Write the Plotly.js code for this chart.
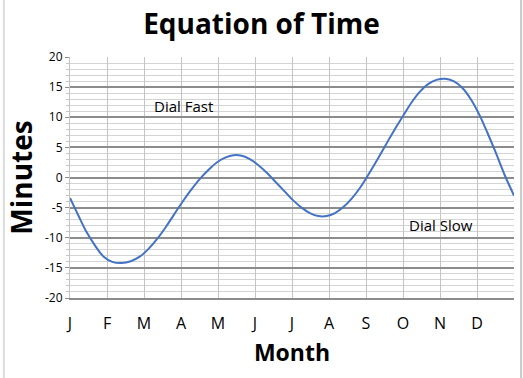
<!DOCTYPE html>
<html>
<head>
<meta charset="utf-8">
<script src="https://cdn.plot.ly/plotly-3.0.1.min.js"></script>
<style>
html,body{margin:0;padding:0;background:#fff;}
#chart{width:523px;height:378px;}
</style>
</head>
<body>
<div id="chart"></div>
<script>
// Month position (0 = 1 Jan, 12 = end of 31 Dec) and equation of time in minutes (about weekly)
var monthPos = [0, 0.226, 0.452, 0.677, 0.903,
  1.143, 1.393, 1.643, 1.893,
  2.129, 2.355, 2.581, 2.806,
  3.033, 3.267, 3.5, 3.733, 3.967,
  4.194, 4.419, 4.645, 4.871,
  5.1, 5.333, 5.567, 5.8,
  6.032, 6.258, 6.484, 6.71, 6.935,
  7.161, 7.387, 7.613, 7.839,
  8.067, 8.3, 8.533, 8.767,
  9.0, 9.226, 9.452, 9.677, 9.903,
  10.133, 10.367, 10.6, 10.833,
  11.065, 11.29, 11.516, 11.742, 12.0];
var minutes = [-3.4, -6.3, -9.1, -11.3, -13.1,
  -14.0, -14.2, -13.9, -13.1,
  -11.8, -10.2, -8.3, -6.2,
  -4.1, -2.1, -0.3, 1.2, 2.5,
  3.3, 3.7, 3.6, 3.0,
  2.0, 0.7, -0.8, -2.3,
  -3.8, -5.0, -5.9, -6.4, -6.4,
  -5.9, -4.9, -3.5, -1.7,
  0.5, 2.9, 5.4, 7.9,
  10.2, 12.4, 14.2, 15.5, 16.2,
  16.4, 16.0, 14.9, 13.0,
  10.4, 7.3, 4.0, 0.5, -3.0];
var monthLabels = ['J','F','M','A','M','J','J','A','S','O','N','D',''];
var monthTicks = [0,1,2,3,4,5,6,7,8,9,10,11,12];
var yTicks = [-20,-15,-10,-5,0,5,10,15,20];
var yLabels = ['-20','-15','-10','-5','0','5','10','15','20'];
var notes = [
  {text: 'Dial Fast', x: 3.06, y: 11.9},
  {text: 'Dial Slow', x: 10.03, y: -7.9}
];

var font = '"Open Sans", "DejaVu Sans", sans-serif';

var trace = {
  x: monthPos,
  y: minutes,
  type: 'scatter',
  mode: 'lines',
  line: {color: '#4472C4', width: 2, shape: 'spline', smoothing: 1.0},
  hoverinfo: 'skip'
};

var layout = {
  width: 523,
  height: 378,
  margin: {l: 70, r: 9, t: 57, b: 80},
  paper_bgcolor: '#ffffff',
  plot_bgcolor: '#ffffff',
  showlegend: false,
  font: {family: font, color: '#000'},
  title: {
    text: '<b>Equation of Time</b>',
    font: {family: font, size: 28, color: '#000'},
    x: 0.5, xanchor: 'center', y: 0.935, yanchor: 'middle'
  },
  xaxis: {
    range: [0, 12],
    tickmode: 'array',
    tickvals: monthTicks,
    ticktext: monthLabels,
    showgrid: true,
    gridcolor: '#c4c4c4',
    gridwidth: 1,
    zeroline: false,
    showline: true,
    linecolor: '#8c8c8c',
    linewidth: 2,
    ticks: '',
    ticklabelstandoff: 10,
    tickfont: {family: font, size: 16, color: '#000'},
    title: {text: '<b>Month</b>', font: {family: font, size: 23, color: '#000'}, standoff: 12},
    fixedrange: true
  },
  yaxis: {
    range: [-20, 20],
    tickmode: 'array',
    tickvals: yTicks,
    ticktext: yLabels,
    showgrid: true,
    gridcolor: '#8c8c8c',
    gridwidth: 2,
    zeroline: false,
    showline: true,
    linecolor: '#c4c4c4',
    linewidth: 1,
    ticks: 'outside',
    ticklen: 4,
    tickcolor: '#8c8c8c',
    tickwidth: 1,
    tickfont: {family: font, size: 12, color: '#000'},
    minor: {tickmode: 'linear', tick0: 0, dtick: 1, showgrid: true, gridcolor: '#d4d4d4', gridwidth: 1, ticks: 'outside', ticklen: 3, tickcolor: '#c4c4c4'},
    title: {text: '<b>Minutes</b>', font: {family: font, size: 28, color: '#000'}, standoff: 4},
    fixedrange: true
  },
  annotations: notes.map(function(n){
    return {text: n.text, x: n.x, y: n.y, xref: 'x', yref: 'y', showarrow: false,
            font: {family: font, size: 15, color: '#000'}, xanchor: 'center', yanchor: 'middle'};
  }),
  shapes: [
    {type: 'line', xref: 'paper', yref: 'paper', x0: -0.149, x1: -0.149, y0: -0.34, y1: 1.24, line: {color: '#dcdcdc', width: 2}},
    {type: 'line', xref: 'paper', yref: 'paper', x0: 1.016, x1: 1.016, y0: -0.34, y1: 1.24, line: {color: '#c8c8c8', width: 2}}
  ]
};

Plotly.newPlot('chart', [trace], layout, {displayModeBar: false, staticPlot: true});
</script>
</body>
</html>
